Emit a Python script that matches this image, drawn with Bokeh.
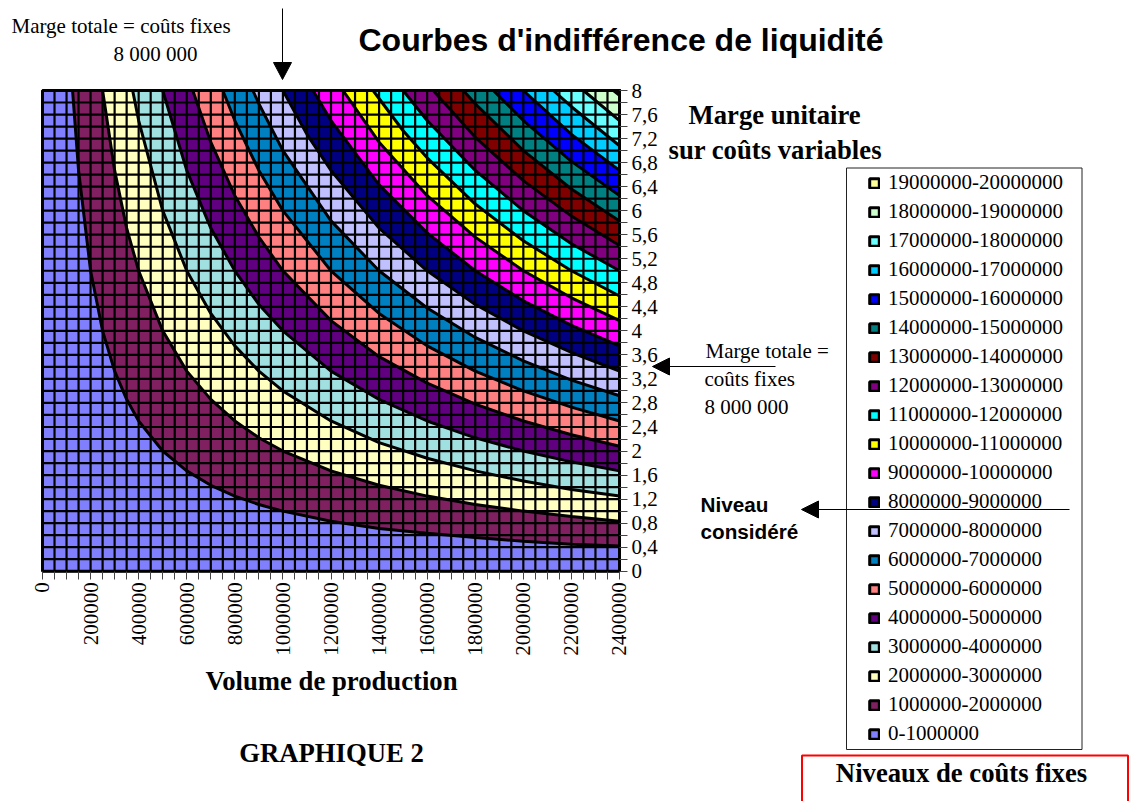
from math import pi
from bokeh.plotting import figure
from bokeh.models import (Range1d, FixedTicker, Label, PolyAnnotation, BoxAnnotation,
                          Legend, LegendItem, LinearAxis)
from bokeh.embed import file_html
from bokeh.resources import INLINE

# ---------- data ----------
volume_limits = [0, 2400000]
margin_limits = [0, 8]

x_major = [0, 200000, 400000, 600000, 800000, 1000000, 1200000, 1400000, 1600000,
           1800000, 2000000, 2200000, 2400000]
x_minor = [50000, 100000, 150000, 250000, 300000, 350000, 450000, 500000, 550000,
           650000, 700000, 750000, 850000, 900000, 950000, 1050000, 1100000, 1150000,
           1250000, 1300000, 1350000, 1450000, 1500000, 1550000, 1650000, 1700000, 1750000,
           1850000, 1900000, 1950000, 2050000, 2100000, 2150000, 2250000, 2300000, 2350000]
y_major = [0, 0.4, 0.8, 1.2, 1.6, 2, 2.4, 2.8, 3.2, 3.6, 4, 4.4, 4.8, 5.2, 5.6, 6,
           6.4, 6.8, 7.2, 7.6, 8]
y_minor = [0.2, 0.6, 1.0, 1.4, 1.8, 2.2, 2.6, 3.0, 3.4, 3.8, 4.2, 4.6, 5.0, 5.4, 5.8,
           6.2, 6.6, 7.0, 7.4, 7.8]
y_tick_labels = ["0", "0,4", "0,8", "1,2", "1,6", "2", "2,4", "2,8", "3,2", "3,6", "4",
                 "4,4", "4,8", "5,2", "5,6", "6", "6,4", "6,8", "7,2", "7,6", "8"]

band_names = ["0-1000000", "1000000-2000000", "2000000-3000000", "3000000-4000000",
              "4000000-5000000", "5000000-6000000", "6000000-7000000", "7000000-8000000",
              "8000000-9000000", "9000000-10000000", "10000000-11000000", "11000000-12000000",
              "12000000-13000000", "13000000-14000000", "14000000-15000000", "15000000-16000000",
              "16000000-17000000", "17000000-18000000", "18000000-19000000", "19000000-20000000"]
band_colors = ["#8080FF", "#802060", "#FFFFC0", "#A0E0E0", "#600080", "#FF8080", "#0080C0",
               "#C0C0FF", "#000080", "#FF00FF", "#FFFF00", "#00FFFF", "#800080", "#800000",
               "#008080", "#0000FF", "#00CCFF", "#69FFFF", "#CCFFCC", "#FFFF99"]

# lower boundary of each band above the first: volume (thousands) and unit margin
v01 = [125, 150, 200, 250, 300, 350, 400, 500, 600, 700, 800, 900, 1000, 1200, 1400, 1600, 1800, 2000, 2200, 2400]
m01 = [8, 6.67, 5, 4, 3.33, 2.86, 2.5, 2, 1.67, 1.43, 1.25, 1.11, 1, .83, .71, .63, .56, .5, .45, .42]
v02 = [250, 300, 350, 400, 500, 600, 700, 800, 900, 1000, 1200, 1400, 1600, 1800, 2000, 2200, 2400]
m02 = [8, 6.67, 5.71, 5, 4, 3.33, 2.86, 2.5, 2.22, 2, 1.67, 1.43, 1.25, 1.11, 1, .91, .83]
v03 = [375, 400, 500, 600, 700, 800, 900, 1000, 1200, 1400, 1600, 1800, 2000, 2200, 2400]
m03 = [8, 7.5, 6, 5, 4.29, 3.75, 3.33, 3, 2.5, 2.14, 1.88, 1.67, 1.5, 1.36, 1.25]
v04 = [500, 600, 700, 800, 900, 1000, 1200, 1400, 1600, 1800, 2000, 2200, 2400]
m04 = [8, 6.67, 5.71, 5, 4.44, 4, 3.33, 2.86, 2.5, 2.22, 2, 1.82, 1.67]
v05 = [625, 700, 800, 900, 1000, 1200, 1400, 1600, 1800, 2000, 2200, 2400]
m05 = [8, 7.14, 6.25, 5.56, 5, 4.17, 3.57, 3.13, 2.78, 2.5, 2.27, 2.08]
v06 = [750, 800, 900, 1000, 1200, 1400, 1600, 1800, 2000, 2200, 2400]
m06 = [8, 7.5, 6.67, 6, 5, 4.29, 3.75, 3.33, 3, 2.73, 2.5]
v07 = [875, 900, 1000, 1200, 1400, 1600, 1800, 2000, 2200, 2400]
m07 = [8, 7.78, 7, 5.83, 5, 4.38, 3.89, 3.5, 3.18, 2.92]
v08 = [1000, 1100, 1200, 1400, 1600, 1800, 2000, 2200, 2400]
m08 = [8, 7.27, 6.67, 5.71, 5, 4.44, 4, 3.64, 3.33]
v09 = [1125, 1200, 1400, 1600, 1800, 2000, 2200, 2400]
m09 = [8, 7.5, 6.43, 5.63, 5, 4.5, 4.09, 3.75]
v10 = [1250, 1400, 1600, 1800, 2000, 2200, 2400]
m10 = [8, 7.14, 6.25, 5.56, 5, 4.55, 4.17]
v11 = [1375, 1500, 1600, 1800, 2000, 2200, 2400]
m11 = [8, 7.33, 6.88, 6.11, 5.5, 5, 4.58]
v12 = [1500, 1600, 1800, 2000, 2200, 2400]
m12 = [8, 7.5, 6.67, 6, 5.45, 5]
v13 = [1625, 1800, 2000, 2200, 2400]
m13 = [8, 7.22, 6.5, 5.91, 5.42]
v14 = [1750, 1800, 2000, 2200, 2400]
m14 = [8, 7.78, 7, 6.36, 5.83]
v15 = [1875, 2000, 2200, 2400]
m15 = [8, 7.5, 6.82, 6.25]
v16 = [2000, 2200, 2400]
m16 = [8, 7.27, 6.67]
v17 = [2125, 2200, 2400]
m17 = [8, 7.73, 7.08]
v18 = [2250, 2400]
m18 = [8, 7.5]
v19 = [2375, 2400]
m19 = [8, 7.92]

boundaries = [(v01, m01), (v02, m02), (v03, m03), (v04, m04), (v05, m05), (v06, m06), (v07, m07),
              (v08, m08), (v09, m09), (v10, m10), (v11, m11), (v12, m12), (v13, m13), (v14, m14),
              (v15, m15), (v16, m16), (v17, m17), (v18, m18), (v19, m19)]

# ---------- layout: the frame fills the page, the axes stand at fixed data locations ----------
W, H = 1133, 801
FL, FR, FT, FB = 42.0, 619.0, 90.0, 570.7
SERIF = "Liberation Serif"
SANS = "Liberation Sans"


def dx(px):
    return (px - FL) / (FR - FL) * volume_limits[1]


def dy(py):
    return (FB - py) / (FB - FT) * margin_limits[1]


p = figure(width=W, height=H, output_backend="svg", toolbar_location=None,
           x_range=Range1d(dx(0), dx(W)), y_range=Range1d(dy(H), dy(0)),
           x_axis_location=None, y_axis_location=None,
           min_border=0, min_border_left=0, min_border_right=0,
           min_border_top=0, min_border_bottom=0)
p.outline_line_color = None
p.background_fill_color = "white"
p.grid.visible = False

xt = FixedTicker(ticks=x_major, minor_ticks=x_minor)
yt = FixedTicker(ticks=y_major, minor_ticks=y_minor)
xaxis = LinearAxis(ticker=xt, fixed_location=margin_limits[0], bounds=tuple(volume_limits),
                   major_label_overrides={v: str(v) for v in x_major},
                   major_label_orientation=pi / 2)
yaxis = LinearAxis(ticker=yt, fixed_location=volume_limits[1], bounds=tuple(margin_limits),
                   major_label_overrides=dict(zip(y_major, y_tick_labels)))
for ax in (xaxis, yaxis):
    ax.major_label_text_font = SERIF
    ax.major_label_text_font_size = "21px"
    ax.major_label_text_color = "black"
    ax.major_tick_out = 8
    ax.major_tick_in = 0
    ax.minor_tick_out = 8
    ax.minor_tick_in = 0
    ax.major_tick_line_color = "#444444"
    ax.minor_tick_line_color = "#444444"
    ax.axis_line_color = "black"
xaxis.major_label_standoff = 3
yaxis.major_label_standoff = 4
p.add_layout(xaxis, "below")
p.add_layout(yaxis, "right")

# ---------- bands ----------
CONTOUR = 3
rends = []
rends.append(p.patch([volume_limits[0], volume_limits[1], volume_limits[1], volume_limits[0]],
                     [margin_limits[0], margin_limits[0], margin_limits[1], margin_limits[1]],
                     fill_color=band_colors[0], line_color="black", line_width=CONTOUR))
for (vs, ms), col in zip(boundaries, band_colors[1:]):
    xs = [v * 1000 for v in vs] + [volume_limits[1]]
    ys = list(ms) + [margin_limits[1]]
    rends.append(p.patch(xs, ys, fill_color=col, line_color="black", line_width=CONTOUR))

# grid drawn over the bands
all_x = sorted(x_major + x_minor)
all_y = sorted(y_major + y_minor)
p.segment(all_x, [margin_limits[0]] * len(all_x), all_x, [margin_limits[1]] * len(all_x),
          line_color="black", line_width=2.2)
p.segment([volume_limits[0]] * len(all_y), all_y, [volume_limits[1]] * len(all_y), all_y,
          line_color="black", line_width=2.2)

# ---------- legend ----------
items = [LegendItem(label=n, renderers=[r]) for n, r in zip(band_names, rends)][::-1]
legend = Legend(items=items, location=(867, H - 747), orientation="vertical",
                border_line_alpha=0, background_fill_alpha=0,
                padding=1, margin=0, spacing=4, label_standoff=8,
                glyph_width=12, glyph_height=12, label_height=20,
                label_text_font=SERIF, label_text_font_size="21px", label_text_color="black")
p.add_layout(legend)


def text(s, x, y, size, font=SERIF, bold=False, align="left"):
    # y is the text's baseline on the page; the label's alphabetic anchor sits 0.3 em above it
    p.add_layout(Label(x=dx(x), y=dy(y - 0.3 * size), text=s, text_font=font,
                       text_font_size=f"{size}px",
                       text_font_style="bold" if bold else "normal", text_color="black",
                       text_align=align, text_baseline="alphabetic"))


def poly(pts, fill=None):
    p.add_layout(PolyAnnotation(xs=[dx(a) for a, _ in pts], ys=[dy(b) for _, b in pts],
                                line_color="black", line_width=1, line_alpha=1,
                                fill_color=fill if fill else "black",
                                fill_alpha=1 if fill else 0))


p.add_layout(BoxAnnotation(left=dx(846), right=dx(1081.5), top=dy(167.5), bottom=dy(749),
                           fill_alpha=0, line_color="#222222", line_width=1, line_alpha=1))
p.add_layout(BoxAnnotation(left=dx(801.5), right=dx(1127.5), top=dy(755), bottom=dy(830),
                           fill_alpha=0, line_color="#FF0000", line_width=2, line_alpha=1))

text("Courbes d'indifférence de liquidité", 358, 49, 32, font=SANS, bold=True)
text("Volume de production", 331, 689, 26.7, bold=True, align="center")
text("Marge totale = coûts fixes", 11, 32, 21)
text("8 000 000", 113, 60, 21)
text("Marge unitaire", 688, 123, 26.7, bold=True)
text("sur coûts variables", 668, 158, 26.7, bold=True)
text("Marge totale =", 705, 357, 21)
text("coûts fixes", 704, 385, 21)
text("8 000 000", 704, 413, 21)
text("Niveau", 700, 510, 20.7, font=SANS, bold=True)
text("considéré", 700, 537, 20.7, font=SANS, bold=True)
text("GRAPHIQUE 2", 331, 761, 26.7, bold=True, align="center")
text("Niveaux de coûts fixes", 961, 781, 26.7, bold=True, align="center")

# arrows: a thin shaft and a filled head
poly([(282, 8), (282, 70)])
poly([(273, 62), (291, 62), (282, 79)], fill="black")
poly([(669, 366), (775, 366)])
poly([(652, 366), (669, 357.5), (669, 374.5)], fill="black")
poly([(818, 509), (1069, 509)])
poly([(801, 509), (818, 500.5), (818, 517.5)], fill="black")

open("out.html", "w").write(file_html(p, INLINE))
